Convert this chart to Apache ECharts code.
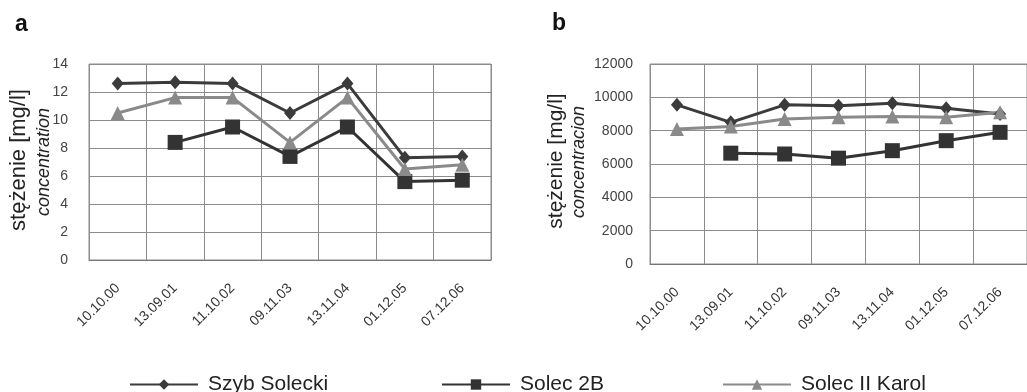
<!DOCTYPE html>
<html>
<head>
<meta charset="utf-8">
<script src="https://cdn.jsdelivr.net/npm/echarts@6/dist/echarts.min.js"></script>
<style>
  html, body { margin: 0; padding: 0; background: #fff; }
  #chart { width: 1027px; height: 392px; }
</style>
</head>
<body>
<div id="chart"></div>
<script>
// dates of sampling
const categories = ['10.10.00', '13.09.01', '11.10.02', '09.11.03', '13.11.04', '01.12.05', '07.12.06'];

// panel a
const szybA = [12.6, 12.7, 12.6, 10.5, 12.6, 7.3, 7.4];
const solec2bA = [null, 8.4, 9.5, 7.4, 9.5, 5.6, 5.7];
const karolA = [10.5, 11.6, 11.6, 8.4, 11.6, 6.5, 6.8];

// panel b
const szybB = [9550, 8500, 9550, 9500, 9650, 9350, 9000];
const solec2bB = [null, 6650, 6600, 6350, 6800, 7400, 7900];
const karolB = [8100, 8250, 8700, 8800, 8850, 8800, 9100];

const names = ['Szyb Solecki', 'Solec 2B', 'Solec II Karol'];

const chart = echarts.init(document.getElementById('chart'));

const SANS = '"Liberation Sans", Arial';

const styles = [
  { color: '#3b3b3b', symbol: 'diamond', size: [12, 14] },
  { color: '#333333', symbol: 'rect', size: 15 },
  { color: '#8a8a8a', symbol: 'triangle', size: 14 },
];

function makeSeries(idx, data, grid) {
  const s = styles[idx];
  return {
    name: names[idx],
    type: 'line',
    xAxisIndex: grid,
    yAxisIndex: grid,
    data: data,
    symbol: s.symbol,
    symbolSize: s.size,
    showAllSymbol: true,
    connectNulls: false,
    lineStyle: { color: s.color, width: 3 },
    itemStyle: { color: s.color },
  };
}

const gridLine = { show: true, lineStyle: { color: '#8c8c8c', width: 1 } };

function xAxis(grid) {
  return {
    type: 'category',
    gridIndex: grid,
    data: categories,
    boundaryGap: true,
    axisLine: { lineStyle: { color: '#777', width: 1 } },
    axisTick: { show: false },
    splitLine: { show: true, interval: 0, lineStyle: { color: '#8c8c8c', width: 1 } },
    axisLabel: {
      interval: 0,
      rotate: 45,
      margin: 26,
      color: '#333',
      fontSize: 14,
      fontFamily: SANS,
    },
  };
}

function yAxis(grid, max, step, margin, size) {
  return {
    type: 'value', gridIndex: grid, min: 0, max: max, interval: step,
    axisLine: { show: false }, axisTick: { show: false },
    splitLine: gridLine,
    axisLabel: {
      margin: margin, color: '#444', fontSize: size, fontFamily: SANS,
      formatter: (v) => String(v),
    },
  };
}

function legendItem(i, left) {
  return {
    left: left,
    top: 369,
    itemWidth: 68,
    itemHeight: 13,
    data: [names[i]],
    textStyle: { color: '#222', fontSize: 21, fontFamily: SANS, padding: [0, 0, 0, 5] },
  };
}

function vText(text, x, y, font) {
  return {
    type: 'text', x: x, y: y, rotation: Math.PI / 2,
    style: { text: text, font: font, fill: '#222', align: 'center', verticalAlign: 'middle' },
  };
}

const option = {
  backgroundColor: '#fff',
  animation: false,
  grid: [
    { left: 89, top: 64, width: 402, height: 196, show: true, borderColor: '#8c8c8c', borderWidth: 1 },
    { left: 650, top: 64, width: 391, height: 200, show: true, borderColor: '#8c8c8c', borderWidth: 1 },
  ],
  xAxis: [xAxis(0), xAxis(1)],
  yAxis: [yAxis(0, 14, 2, 21, 14), yAxis(1, 12000, 2000, 17, 14)],
  legend: [legendItem(0, 124), legendItem(1, 436), legendItem(2, 717)],
  graphic: [
    { type: 'text', left: 15, top: 13, style: { text: 'a', font: 'bold 23px ' + SANS, fill: '#111' } },
    { type: 'text', left: 552, top: 12, style: { text: 'b', font: 'bold 23px ' + SANS, fill: '#111' } },
    vText('stężenie [mg/l]', 19, 160, '22px ' + SANS),
    vText('concentration', 44, 162, 'italic 18px ' + SANS),
    vText('stężenie [mg/l]', 556, 161, '21px ' + SANS),
    vText('concentracion', 579, 162, 'italic 18px ' + SANS),
  ],
  series: [
    makeSeries(0, szybA, 0),
    makeSeries(1, solec2bA, 0),
    makeSeries(2, karolA, 0),
    makeSeries(0, szybB, 1),
    makeSeries(1, solec2bB, 1),
    makeSeries(2, karolB, 1),
  ],
};

chart.setOption(option);
</script>
</body>
</html>
